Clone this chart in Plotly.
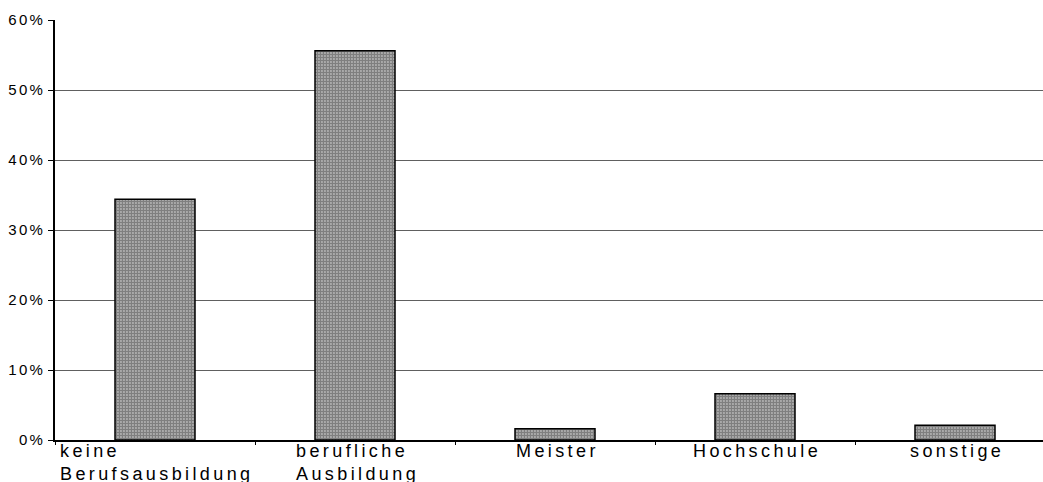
import plotly.graph_objects as go

categories = ["keine Berufsausbildung", "berufliche Ausbildung", "Meister", "Hochschule", "sonstige"]
tick_lines = [["keine", "Berufsausbildung"], ["berufliche", "Ausbildung"], ["Meister"], ["Hochschule"], ["sonstige"]]
shares = [34.4, 55.6, 1.6, 6.6, 2.1]
y_ticks = [0, 10, 20, 30, 40, 50, 60]


def spaced(s, px):
    return f'<span style="letter-spacing:{px}px">{s}</span>'


fig = go.Figure(go.Bar(
    x=categories,
    y=shares,
    width=0.4,
    marker=dict(
        color="white",
        line=dict(color="black", width=1.5),
        pattern=dict(shape=".", fgcolor="black", bgcolor="white", size=3, solidity=0.8),
    ),
))

for cat, lines in zip(categories, tick_lines):
    fig.add_annotation(
        x=cat, y=0, xref="x", yref="y",
        text="<br>".join(spaced(l, 3.4) for l in lines),
        showarrow=False, xanchor="center", yanchor="top", align="left",
        yshift=1, xshift=2,
        font=dict(family="Liberation Sans, Arial", size=18, color="black"),
    )

fig.update_layout(
    width=1043, height=482,
    margin=dict(l=55, r=0, t=20, b=42),
    plot_bgcolor="white", paper_bgcolor="white",
    showlegend=False,
)
# the last category runs past the right edge of the picture
fig.update_xaxes(
    showticklabels=False, ticks="outside", tickson="boundaries", ticklen=3,
    tickcolor="black", showline=True, linecolor="black", linewidth=1.5,
    showgrid=False, range=[-0.5, 4.44],
)
fig.update_yaxes(
    range=[0, 60], tickvals=y_ticks, ticktext=[spaced(f"{v}%", 2.3) for v in y_ticks],
    ticks="outside", ticklen=5, tickcolor="black",
    showline=True, linecolor="black", linewidth=1.5,
    showgrid=True, gridcolor="#606060", gridwidth=1.2,
    zeroline=False,
    tickfont=dict(family="Liberation Sans, Arial", size=15, color="black"),
)

# drop the default page margin so the figure fills the window
fig.write_html(
    "out.html",
    config={"displayModeBar": False},
    post_script="document.body.style.margin='0'; document.body.style.overflow='hidden';",
)
